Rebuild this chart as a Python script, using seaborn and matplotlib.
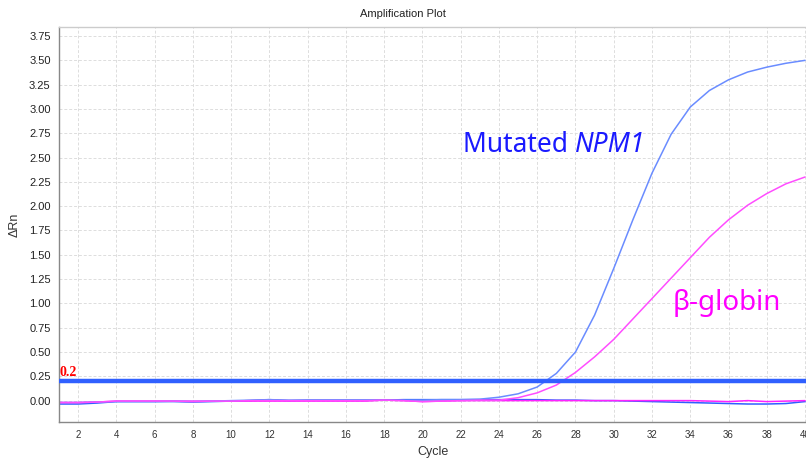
import numpy as np
import pandas as pd
import matplotlib
matplotlib.use("Agg")
import matplotlib.pyplot as plt
import seaborn as sns

cycles = list(range(1, 41))

npm1_amp = [-0.02, -0.02, -0.015, -0.01, -0.01, -0.01, -0.005, -0.01, -0.005, 0.0,
            0.005, 0.01, 0.005, 0.005, 0.005, 0.005, 0.005, 0.005, 0.005, 0.005,
            0.01, 0.01, 0.015, 0.035, 0.07, 0.14, 0.28, 0.50, 0.88, 1.36,
            1.86, 2.34, 2.74, 3.02, 3.19, 3.30, 3.38, 3.43, 3.47, 3.50]

npm1_flat = [-0.035, -0.035, -0.025, -0.01, -0.01, -0.01, -0.01, -0.015, -0.01, -0.005,
             0.0, 0.01, 0.0, 0.005, 0.005, 0.005, 0.005, 0.005, 0.01, 0.01,
             0.01, 0.01, 0.01, 0.01, 0.01, 0.01, 0.005, 0.005, 0.0, 0.0,
             -0.005, -0.01, -0.015, -0.02, -0.025, -0.03, -0.035, -0.035, -0.03, -0.01]

bglobin_amp = [-0.02, -0.02, -0.015, -0.005, -0.005, -0.005, -0.005, -0.01, -0.005, -0.005,
               0.0, 0.0, 0.0, 0.0, 0.0, 0.0, 0.0, 0.005, 0.0, -0.01,
               -0.005, 0.0, 0.005, 0.005, 0.03, 0.08, 0.16, 0.29, 0.45, 0.63,
               0.84, 1.05, 1.26, 1.47, 1.68, 1.86, 2.01, 2.13, 2.23, 2.30]

bglobin_flat = [-0.02, -0.02, -0.015, -0.005, -0.005, -0.005, -0.005, -0.005, -0.005, -0.005,
                -0.005, -0.005, -0.005, -0.005, -0.005, -0.005, -0.005, 0.005, 0.0, -0.01,
                -0.005, 0.0, 0.0, 0.0, 0.0, 0.0, 0.0, 0.0, 0.0, 0.0,
                0.0, 0.0, 0.0, 0.0, -0.005, -0.01, 0.0, -0.01, -0.005, 0.0]

threshold = 0.2

series_names = ["npm1_flat", "bglobin_flat", "npm1_amp", "bglobin_amp"]
series_values = [npm1_flat, bglobin_flat, npm1_amp, bglobin_amp]
palette = {"npm1_flat": "#2f5fff", "bglobin_flat": "#ff22ff",
           "npm1_amp": "#6a8cff", "bglobin_amp": "#ff4dff"}

df = pd.DataFrame({
    "Cycle": np.tile(cycles, len(series_names)),
    "dRn": np.concatenate(series_values),
    "series": np.repeat(series_names, len(cycles)),
})

sns.set_style("white")
plt.rcParams["font.family"] = ["Liberation Sans", "DejaVu Sans"]

fig = plt.figure(figsize=(8.06, 4.58), dpi=100)
ax = fig.add_axes([59 / 806, 1 - 422 / 458, 1 - 59 / 806, (422 - 27.3) / 458])

sns.lineplot(data=df, x="Cycle", y="dRn", hue="series", palette=palette,
             linewidth=1.1, legend=False, ax=ax, sort=False)

ax.axhline(threshold, color="#3060ff", linewidth=3.2, zorder=5)

ax.set_xlim(1, 40.05)
ax.set_ylim(-0.22, 3.84)
ax.set_xticks(list(range(2, 41, 2)))
yt = np.arange(0, 3.76, 0.25)
ax.set_yticks(yt)
ax.set_yticklabels([f"{v:.2f}" for v in yt])
ax.tick_params(axis="x", labelsize=7, length=3, color="#888888", labelcolor="#333333", pad=3)
ax.tick_params(axis="y", labelsize=8, length=3, color="#888888", labelcolor="#222222", pad=3)
ax.grid(True, color="#dddddd", linestyle=(0, (3, 2)), linewidth=0.7)
ax.set_axisbelow(True)

for s in ["left", "bottom"]:
    ax.spines[s].set_color("#888888")
    ax.spines[s].set_linewidth(1.0)
ax.spines["top"].set_color("#cccccc")
ax.spines["top"].set_linewidth(1.0)
ax.spines["right"].set_visible(False)

ax.set_xlabel("Cycle", fontsize=9, color="#333333", labelpad=4)
ax.set_ylabel("ΔRn", fontsize=9, color="#333333", labelpad=6)
fig.text(0.5, 1 - 14 / 458, "Amplification Plot", ha="center", va="center",
         fontsize=8, color="#222222")

ax.text(1.05, threshold + 0.02, "0.2", color="red", fontsize=10, fontweight="bold",
        family="Liberation Serif", ha="left", va="bottom", zorder=6)

t1 = ax.text(22.1, 2.63, "Mutated ", color="#1a1aff", fontsize=19,
             family="Noto Sans", ha="left", va="center")
fig.canvas.draw()
bb = t1.get_window_extent()
inv = ax.transData.inverted()
x_end = inv.transform((bb.x1, bb.y0))[0]
ax.text(x_end, 2.63, "NPM1", color="#1a1aff", fontsize=19, family="Noto Sans",
        style="italic", ha="left", va="center")

ax.text(33.1, 1.0, "β-globin", color="#ff00ff", fontsize=20, family="Noto Sans",
        ha="left", va="center")

fig.savefig("out.png", dpi=100)
